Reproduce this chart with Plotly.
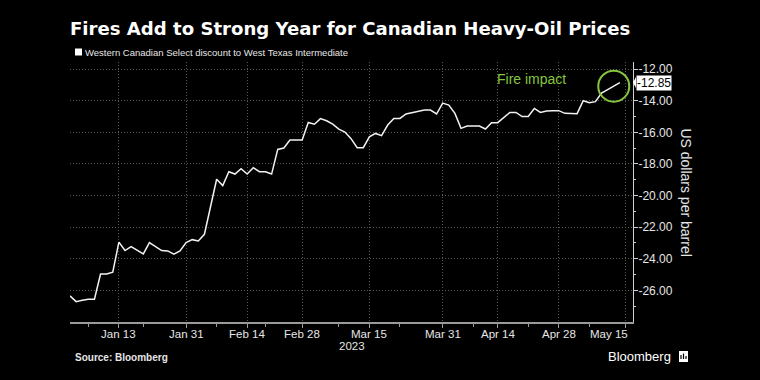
import pandas as pd
import plotly.graph_objects as go

# ---- data -------------------------------------------------------------
holidays = ["2023-01-16", "2023-02-20", "2023-04-07"]
trading_days = [d.strftime("%Y-%m-%d")
                for d in pd.bdate_range("2023-01-03", "2023-05-16")
                if d.strftime("%Y-%m-%d") not in holidays]

wcs_discount = [
    -26.35, -26.71, -26.63, -26.56, -26.56, -24.96, -24.96, -24.85, -22.95, -23.48,
    -23.23, -23.48, -23.69, -22.98, -23.23, -23.48, -23.50, -23.71, -23.50, -22.98,
    -22.79, -22.87, -22.45, -20.70, -18.97, -19.37, -18.49, -18.64, -18.30, -18.64,
    -18.24, -18.49, -18.49, -18.64, -17.08, -16.99, -16.49, -16.49, -16.49, -15.38,
    -15.49, -15.13, -15.27, -15.48, -15.80, -15.98, -16.40, -16.97, -16.97, -16.28,
    -16.07, -16.21, -15.54, -15.12, -15.12, -14.84, -14.76, -14.65, -14.59, -14.59,
    -14.84, -14.15, -14.28, -14.80, -15.75, -15.60, -15.60, -15.60, -15.79, -15.39,
    -15.39, -15.08, -14.74, -14.74, -15.00, -15.00, -14.49, -14.74, -14.65, -14.63,
    -14.63, -14.80, -14.82, -14.82, -14.00, -14.13, -14.06, -13.52, -13.30, -13.08,
    -12.85,
]

x_tick_dates = ["2023-01-13", "2023-01-31", "2023-02-14", "2023-02-28", "2023-03-15",
                "2023-03-31", "2023-04-14", "2023-04-28", "2023-05-15"]
x_tick_text = ["Jan 13", "Jan 31", "Feb 14", "Feb 28", "Mar 15",
               "Mar 31", "Apr 14", "Apr 28", "May 15"]
x_minor_dates = ["2023-01-06", "2023-01-20", "2023-02-07", "2023-02-17", "2023-03-08",
                 "2023-03-22", "2023-04-10", "2023-04-21", "2023-05-05"]

y_tick_vals = [-26, -24, -22, -20, -18, -16, -14, -12]
y_tick_text = ["-26.00", "-24.00", "-22.00", "-20.00", "-18.00", "-16.00", "-14.00", "-12.00"]
y_minor_vals = [-27, -25, -23, -21, -19, -17, -15, -13]

title = "Fires Add to Strong Year for Canadian Heavy-Oil Prices"
series_name = "Western Canadian Select discount to West Texas Intermediate"

# ---- derived positions -------------------------------------------------
idx = {d: i for i, d in enumerate(trading_days)}
xs = list(range(len(wcs_discount)))
tickvals = [idx[d] for d in x_tick_dates]
minorvals = [idx[d] for d in x_minor_dates]

FONT = "Liberation Sans, Arial, sans-serif"
TFONT = "DejaVu Sans, Liberation Sans, sans-serif"
GREEN = "#86c43f"
GRID = "#595959"
TXT = "#e6e6e6"

fig = go.Figure()
fig.add_trace(go.Scatter(x=xs, y=wcs_discount, mode="lines",
                         line=dict(color="#f2f2f2", width=1.5),
                         name=series_name, showlegend=False,
                         hoverinfo="skip"))

fig.update_layout(
    width=760, height=380,
    paper_bgcolor="black", plot_bgcolor="black",
    margin=dict(l=70, r=127, t=62, b=58),
    font=dict(family=FONT, color=TXT, size=12),
    title=dict(text=title, x=70 / 760, xanchor="left", y=1 - 28.5 / 380, yanchor="middle",
               font=dict(family=TFONT, size=18.1, color="white", weight="bold")),
    showlegend=False,
)

fig.update_xaxes(
    range=[0, 92.15], showline=True, linecolor="#9a9a9a", linewidth=1.5,
    tickmode="array", tickvals=tickvals, ticktext=[""] * len(tickvals),
    ticks="outside", ticklen=4, tickcolor="#9a9a9a",
    showgrid=True, gridcolor=GRID, griddash="1px,2px", gridwidth=1,
    zeroline=False,
    minor=dict(tickmode="array", tickvals=minorvals, ticks="outside", ticklen=3,
               tickcolor="#9a9a9a", showgrid=False),
    tickfont=dict(size=11.5, color=TXT),
)
fig.update_yaxes(
    range=[-28.0, -11.55], side="right", showline=True, linecolor="#cfcfcf", linewidth=1,
    tickmode="array", tickvals=y_tick_vals, ticktext=y_tick_text,
    ticks="outside", ticklen=4, tickcolor="#cfcfcf", ticklabelstandoff=-2,
    showgrid=True, gridcolor=GRID, griddash="1px,2px", gridwidth=1,
    zeroline=False,
    minor=dict(tickmode="array", tickvals=y_minor_vals, ticks="outside", ticklen=2,
               tickcolor="#cfcfcf", showgrid=False),
    tickfont=dict(size=12, color=TXT),
)

# x tick labels as annotations (last one right-aligned at the axis end)
for i, (v, t) in enumerate(zip(tickvals, x_tick_text)):
    last = i == len(tickvals) - 1
    fig.add_annotation(x=v, xref="x", y=0, yref="paper", yanchor="middle", yshift=-12,
                       xanchor="right" if last else "center", xshift=4 if last else 0,
                       text=t, showarrow=False, font=dict(size=11.5, color=TXT))

fig.add_annotation(x=0.5, xref="paper", y=0, yref="paper", yanchor="middle", yshift=-24,
                   text="2023", showarrow=False, font=dict(size=11.5, color=TXT))

# legend
fig.add_shape(type="rect", xref="paper", yref="paper", xsizemode="pixel", ysizemode="pixel",
              xanchor=0, yanchor=1, x0=5, x1=12, y0=6.5, y1=13.5,
              fillcolor="white", line=dict(width=0))
fig.add_annotation(x=0, xref="paper", xanchor="left", xshift=12.5, y=1, yref="paper",
                   yanchor="middle", yshift=10, text=series_name, showarrow=False,
                   font=dict(size=9.5, color=TXT))

# y axis title
fig.add_annotation(x=1, xref="paper", xanchor="center", xshift=53, y=-19.8, yref="y",
                   yanchor="middle", text="US dollars per barrel", textangle=90,
                   showarrow=False, font=dict(size=14, color=TXT))

# last value label
fig.add_annotation(x=1, xref="paper", xanchor="left", xshift=3, y=wcs_discount[-1], yref="y",
                   yanchor="middle", text="-12.85", showarrow=False, bgcolor="white",
                   borderpad=0, font=dict(size=12, color="black"))
fig.add_shape(type="path", xref="paper", yref="y", xsizemode="pixel", xanchor=1,
              path="M 3,-12.5 L 3,-13.2 L 0,-12.85 Z", fillcolor="white", line=dict(width=0))

# fire impact circle + text
ci = len(wcs_discount) - 2
fig.add_shape(type="circle", xref="x", yref="y", xsizemode="pixel", ysizemode="pixel",
              xanchor=ci, yanchor=wcs_discount[ci], x0=-15.5, x1=15.5, y0=-15.5, y1=15.5,
              line=dict(color=GREEN, width=2))
fig.add_annotation(x=75.6, xref="x", y=-12.63, yref="y", text="Fire impact", showarrow=False,
                   xanchor="center", yanchor="middle", font=dict(size=14, color=GREEN))

# footer
fig.add_annotation(x=0, xref="paper", xanchor="left", xshift=2.5, y=0, yref="paper",
                   yanchor="middle", yshift=-35.5, text="Source: Bloomberg", showarrow=False,
                   font=dict(size=10, color=TXT, weight="bold"))
fig.add_annotation(x=1, xref="paper", xanchor="right", xshift=40, y=0, yref="paper",
                   yanchor="middle", yshift=-34.5, text="Bloomberg", showarrow=False,
                   font=dict(size=13, color="white"))
fig.add_shape(type="rect", xref="paper", yref="paper", xsizemode="pixel", ysizemode="pixel",
              xanchor=1, yanchor=0, x0=46, x1=55, y0=-29, y1=-40,
              fillcolor="white", line=dict(width=0))
for bx, top in [(48, -33), (50.5, -31.5), (53, -34)]:
    fig.add_shape(type="rect", xref="paper", yref="paper", xsizemode="pixel", ysizemode="pixel",
                  xanchor=1, yanchor=0, x0=bx - 0.6, x1=bx + 0.6, y0=top, y1=-37,
                  fillcolor="black", line=dict(width=0))

fig.write_html(
    "out.html",
    config={"displayModeBar": False},
    post_script=("document.body.style.margin='0';"
                 "document.body.style.background='black';"
                 "document.documentElement.style.background='black';"),
)
